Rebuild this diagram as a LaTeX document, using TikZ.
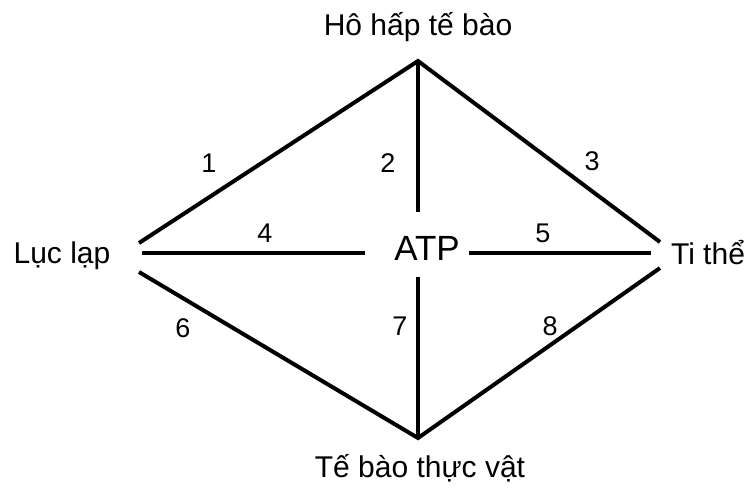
\documentclass[tikz,border=0pt]{standalone}
\usepackage{fontspec}
\setmainfont{Liberation Sans}

\begin{document}
\begin{tikzpicture}[x=1pt,y=-1pt,
  edge/.style={line width=4pt,line join=miter},
  lbl/.style={anchor=base,inner sep=0pt,font=\fontsize{30}{34}\selectfont},
  num/.style={anchor=base,inner sep=0pt,font=\fontsize{27}{31}\selectfont}]
\useasboundingbox (0,0) rectangle (749,493);
% corners of the diamond
\coordinate (top) at (418,61);
\coordinate (bot) at (418,438);
\coordinate (lu) at (139,243);
\coordinate (lm) at (142,253);
\coordinate (ll) at (139,272);
\coordinate (ru) at (660,242);
\coordinate (rm) at (651,253);
\coordinate (rl) at (660,268);
% centre
\node[anchor=base,inner sep=0pt,font=\fontsize{35}{39}\selectfont] (atp) at (427,260) {ATP};
\coordinate (atpn) at (418,212);
\coordinate (atps) at (418,277);
\coordinate (atpw) at (365,253);
\coordinate (atpe) at (469,253);
% labels
\node[lbl] (hohap) at (418,35) {Hô hấp tế bào};
\node[lbl] (luclap) at (62,263) {Lục lạp};
\node[lbl] (tithe) at (708,264) {Ti thể};
\node[lbl] (tebao) at (420,477) {Tế bào thực vật};
% lines
\draw[edge] (lu) -- (top) -- (ru);
\draw[edge] (ll) -- (bot) -- (rl);
\draw[edge] (top) -- (atpn);
\draw[edge] (atps) -- (bot);
\draw[edge] (lm) -- (atpw);
\draw[edge] (atpe) -- (rm);
% numbers
\node[num] (n1) at (209,172) {1};
\node[num] (n2) at (388,172) {2};
\node[num] (n3) at (592,170) {3};
\node[num] (n4) at (265,242) {4};
\node[num] (n5) at (543,242) {5};
\node[num] (n6) at (183,337) {6};
\node[num] (n7) at (400,335) {7};
\node[num] (n8) at (550,335) {8};
\end{tikzpicture}
\end{document}
